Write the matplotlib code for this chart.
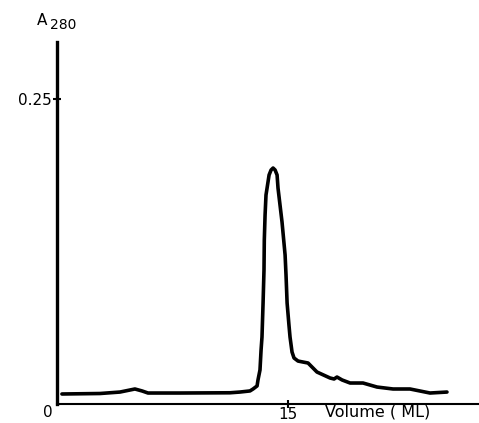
import matplotlib
matplotlib.use("Agg")
import matplotlib.pyplot as plt

# elution profile (volume in mL, absorbance at 280 nm)
volume = [0.32, 2.79, 4.09, 5.06, 5.52, 5.91, 7.99, 11.23, 11.88, 12.53, 12.73,
          12.99, 13.05, 13.18, 13.25, 13.31, 13.38, 13.44, 13.46, 13.51, 13.57,
          13.64, 13.77, 13.90, 14.03, 14.16, 14.29, 14.35, 14.48, 14.61, 14.81,
          14.87, 14.94, 15.06, 15.13, 15.26, 15.39, 15.65, 15.97, 16.30, 16.88,
          17.73, 17.99, 18.18, 18.51, 19.03, 19.87, 20.78, 21.82, 22.92, 24.22,
          25.32]
a280 = [0.0082, 0.0086, 0.0098, 0.0123, 0.0107, 0.0090, 0.0090, 0.0092, 0.0098,
        0.0107, 0.0123, 0.0148, 0.0197, 0.0279, 0.0443, 0.0549, 0.0828, 0.1098,
        0.1344, 0.1549, 0.1713, 0.1770, 0.1877, 0.1918, 0.1934, 0.1918, 0.1877,
        0.1770, 0.1631, 0.1492, 0.1221, 0.1057, 0.0828, 0.0648, 0.0549, 0.0426,
        0.0377, 0.0352, 0.0344, 0.0336, 0.0262, 0.0213, 0.0205, 0.0221, 0.0197,
        0.0172, 0.0172, 0.0139, 0.0123, 0.0123, 0.0090, 0.0098]

x_ticks = [15]
y_ticks = [0.25]

fig = plt.figure(figsize=(4.79, 4.23), dpi=100)
ax = fig.add_axes([57 / 479, 19 / 423, 422 / 479, 362 / 423])

ax.plot(volume, a280, color="black", linewidth=2.6, solid_joinstyle="round",
        solid_capstyle="round")

ax.set_xlim(0, 27.4)
ax.set_ylim(0, 0.2967)

ax.spines["top"].set_visible(False)
ax.spines["right"].set_visible(False)
ax.spines["left"].set_linewidth(2.4)
ax.spines["bottom"].set_linewidth(1.5)

ax.set_xticks(x_ticks)
ax.set_xticklabels(["15"])
ax.set_yticks(y_ticks)
ax.set_yticklabels(["0.25"])
ax.tick_params(direction="inout", length=6, width=1.5, labelsize=11)
ax.tick_params(axis="x", pad=-1)
ax.tick_params(axis="y", pad=1)

ax.text(-0.6, -0.0070, "0", fontsize=11, ha="center", va="center", clip_on=False)
ax.text(17.4, -0.0068, "Volume ( ML)", fontsize=11.5, ha="left", va="center",
        clip_on=False)
ax.text(-1.3, 0.314, "A", fontsize=11, ha="left", va="center", clip_on=False)
ax.text(-0.45, 0.311, "280", fontsize=10, ha="left", va="center", clip_on=False)

fig.savefig("out.png", dpi=100)
